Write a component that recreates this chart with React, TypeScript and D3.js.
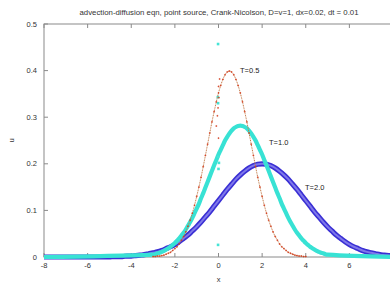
import React, { useEffect, useRef } from "react";
import * as d3 from "d3";

const title = "advection-diffusion eqn, point source, Crank-Nicolson, D=v=1, dx=0.02, dt = 0.01";

const xTicks = [-8, -6, -4, -2, 0, 2, 4, 6, 8];
const yTicks = [0, 0.1, 0.2, 0.3, 0.4, 0.5];

// T=0.5 : x = -3.0 .. 4.0, step 0.1
const x05 = d3.range(71).map(i => -3 + i * 0.1);
const u05 = [
  0.001, 0.001, 0.002, 0.002, 0.003, 0.004, 0.006, 0.008, 0.010, 0.014,
  0.018, 0.022, 0.028, 0.036, 0.044, 0.054, 0.066, 0.079, 0.094, 0.111,
  0.130, 0.150, 0.171, 0.194, 0.218, 0.242, 0.266, 0.290, 0.312, 0.333,
  0.352, 0.368, 0.381, 0.391, 0.397, 0.399, 0.397, 0.391, 0.381, 0.368,
  0.352, 0.333, 0.312, 0.290, 0.266, 0.242, 0.218, 0.194, 0.171, 0.150,
  0.130, 0.111, 0.094, 0.079, 0.066, 0.054, 0.044, 0.036, 0.028, 0.022,
  0.018, 0.014, 0.010, 0.008, 0.006, 0.004, 0.003, 0.002, 0.002, 0.001, 0.001
];

// T=1.0 : x = -3.0 .. 5.0, step 0.1
const x10 = d3.range(81).map(i => -3 + i * 0.1);
const u10 = [
  0.005, 0.006, 0.008, 0.009, 0.011, 0.013, 0.016, 0.019, 0.022, 0.026,
  0.030, 0.035, 0.040, 0.046, 0.052, 0.059, 0.067, 0.075, 0.084, 0.094,
  0.104, 0.114, 0.126, 0.137, 0.149, 0.161, 0.173, 0.185, 0.197, 0.208,
  0.220, 0.230, 0.240, 0.250, 0.258, 0.265, 0.271, 0.276, 0.279, 0.281,
  0.282,
  0.281, 0.279, 0.276, 0.271, 0.265, 0.258, 0.250, 0.240, 0.230, 0.220,
  0.208, 0.197, 0.185, 0.173, 0.161, 0.149, 0.137, 0.126, 0.114, 0.104,
  0.094, 0.084, 0.075, 0.067, 0.059, 0.052, 0.046, 0.040, 0.035, 0.030,
  0.026, 0.022, 0.019, 0.016, 0.013, 0.011, 0.009, 0.008, 0.006, 0.005
];

// T=2.0 : x = -5.0 .. 8.0, step 0.2
const x20 = d3.range(66).map(i => -5 + i * 0.2);
const u20 = [
  0.000, 0.001, 0.001, 0.001, 0.002, 0.002, 0.003, 0.004, 0.005, 0.007,
  0.009, 0.011, 0.014, 0.018, 0.022, 0.027, 0.033, 0.040, 0.047, 0.056,
  0.065, 0.075, 0.086, 0.097, 0.109, 0.121, 0.133, 0.145, 0.156, 0.167,
  0.176, 0.184, 0.191, 0.196, 0.199,
  0.200,
  0.199, 0.196, 0.191, 0.184, 0.176, 0.167, 0.156, 0.145, 0.133, 0.121,
  0.109, 0.097, 0.086, 0.075, 0.065, 0.056, 0.047, 0.040, 0.033, 0.027,
  0.022, 0.018, 0.014, 0.011, 0.009, 0.007, 0.005, 0.004, 0.003, 0.002
];

// stray points around the source node x=0
const stray05: [number, number][] = [
  [0.05, 0.382], [0.0, 0.366], [0.02, 0.342], [-0.02, 0.320], [-0.05, 0.303], [-0.1, 0.281], [0.0, 0.255]
];
const stray10: [number, number][] = [
  [-0.02, 0.457], [-0.03, 0.343], [-0.02, 0.330], [-0.02, 0.215], [0.02, 0.202], [0.0, 0.189], [-0.02, 0.026]
];

const W = 390;
const H = 287;

export default function App() {
  const ref = useRef<SVGSVGElement>(null);

  useEffect(() => {
    document.body.style.margin = "0";
    const svg = d3.select(ref.current);
    svg.selectAll("*").remove();

    const x = d3.scaleLinear().domain([-8, 8]).range([44, 393]);
    const y = d3.scaleLinear().domain([0, 0.5]).range([257, 24]);
    const font = "'Liberation Sans', Arial, sans-serif";

    // frame
    const frame = svg.append("g").attr("stroke", "#8a8a8a").attr("stroke-width", 1).attr("fill", "none");
    frame.append("rect").attr("x", x(-8)).attr("y", y(0.5)).attr("width", x(8) - x(-8)).attr("height", y(0) - y(0.5));

    // ticks (mirrored, inward)
    xTicks.forEach(t => {
      frame.append("line").attr("x1", x(t)).attr("x2", x(t)).attr("y1", y(0)).attr("y2", y(0) - 4);
      frame.append("line").attr("x1", x(t)).attr("x2", x(t)).attr("y1", y(0.5)).attr("y2", y(0.5) + 4);
    });
    yTicks.forEach(t => {
      frame.append("line").attr("x1", x(-8)).attr("x2", x(-8) + 4).attr("y1", y(t)).attr("y2", y(t));
    });

    const line = d3.line<[number, number]>()
      .x(d => x(d[0])).y(d => y(d[1]))
      .curve(d3.curveMonotoneX);

    const s05: [number, number][] = x05.map((v, i) => [v, u05[i]]);
    const s10: [number, number][] = [[-8, 0], ...x10.map((v, i) => [v, u10[i]] as [number, number]), [8, 0]];
    const s20: [number, number][] = [[-8, 0], ...x20.map((v, i) => [v, u20[i]] as [number, number]), [8, 0]];

    // T=2.0 blue circles
    svg.append("path").attr("d", line(s20)).attr("fill", "none")
      .attr("stroke", "#3a2fd4").attr("stroke-width", 5.2);
    svg.append("path").attr("d", line(s20)).attr("fill", "none")
      .attr("stroke", "#7f78ea").attr("stroke-width", 2);

    // T=1.0 cyan
    svg.append("path").attr("d", line(s10)).attr("fill", "none")
      .attr("stroke", "#38e2d4").attr("stroke-width", 4.2);
    svg.selectAll(".stray10").data(stray10).join("rect")
      .attr("x", d => x(d[0]) - 1.3).attr("y", d => y(d[1]) - 1.3)
      .attr("width", 2.6).attr("height", 2.6).attr("fill", "#46e4d6");

    // T=0.5 red
    svg.append("path").attr("d", line(s05)).attr("fill", "none")
      .attr("stroke", "#c27a48").attr("stroke-width", 1).attr("stroke-dasharray", "1 0.7");
    svg.selectAll(".pt05").data(s05.concat(stray05)).join("path")
      .attr("transform", d => `translate(${x(d[0])},${y(d[1])})`)
      .attr("d", "M-0.9,0H0.9M0,-0.9V0.9")
      .attr("stroke", "#d23a1a").attr("stroke-width", 0.7).attr("fill", "none");

    // tick labels (x=8 falls outside the picture)
    svg.append("g").selectAll("text").data(xTicks.filter(t => t < 8)).join("text")
      .attr("x", d => x(d)).attr("y", 268).attr("text-anchor", "middle")
      .attr("font-family", font).attr("font-size", 7.5).attr("fill", "#333")
      .text(d => d);
    svg.append("g").selectAll("text").data(yTicks).join("text")
      .attr("x", 37).attr("y", d => y(d) + 2.6).attr("text-anchor", "end")
      .attr("font-family", font).attr("font-size", 7.5).attr("fill", "#333")
      .text(d => (d === 0 ? "0" : d3.format(".1f")(d)));

    // axis titles
    svg.append("text").attr("x", x(0)).attr("y", 282).attr("text-anchor", "middle")
      .attr("font-family", font).attr("font-size", 7.5).attr("fill", "#333").text("x");
    svg.append("text").attr("transform", `translate(14,${y(0.25)}) rotate(-90)`).attr("text-anchor", "middle")
      .attr("font-family", font).attr("font-size", 7.5).attr("fill", "#333").text("u");

    // title
    svg.append("text").attr("x", 219).attr("y", 15).attr("text-anchor", "middle")
      .attr("font-family", font).attr("font-size", 7.4).attr("fill", "#333")
      .attr("textLength", 279).attr("lengthAdjust", "spacingAndGlyphs")
      .text(title);

    // curve labels
    const lab = [
      { t: "T=0.5", px: 240, py: 73 },
      { t: "T=1.0", px: 269, py: 145 },
      { t: "T=2.0", px: 305, py: 190 }
    ];
    svg.append("g").selectAll("text").data(lab).join("text")
      .attr("x", d => d.px).attr("y", d => d.py)
      .attr("font-family", font).attr("font-size", 7.5).attr("fill", "#222")
      .text(d => d.t);
  }, []);

  return (
    <svg ref={ref} width={W} height={H} style={{ display: "block", background: "#fff" }} />
  );
}
